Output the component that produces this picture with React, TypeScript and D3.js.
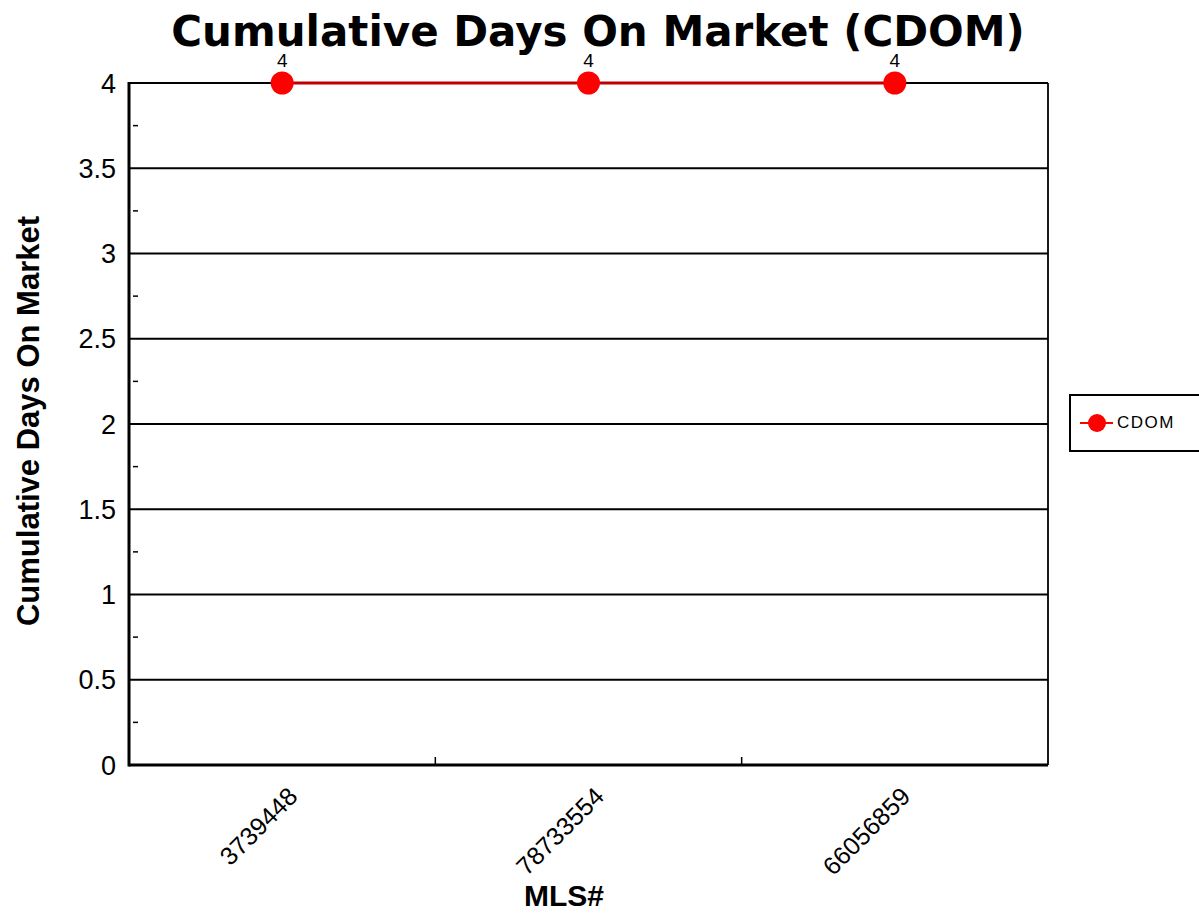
import { useEffect, useRef } from 'react';
import * as d3 from 'd3';

// MLS numbers on the x axis and the CDOM value of each
const mlsNumbers = ['3739448', '78733554', '66056859'];
const cdomValues = [4, 4, 4];
const yTicks = [0, 0.5, 1, 1.5, 2, 2.5, 3, 3.5, 4];
const yMinorTicks = [0.25, 0.75, 1.25, 1.75, 2.25, 2.75, 3.25, 3.75];
const seriesName = 'CDOM';

const App: React.FC = () => {
  const svgRef = useRef<SVGSVGElement | null>(null);

  useEffect(() => {
    if (!svgRef.current) return;
    const svg = d3.select(svgRef.current);
    svg.selectAll('*').remove();

    const width = 1199;
    const height = 913;
    const margin = { top: 83, right: 151, bottom: 148, left: 129 };

    const x = d3.scaleBand<string>()
      .domain(mlsNumbers)
      .range([margin.left, width - margin.right]);

    const y = d3.scaleLinear()
      .domain([0, 4])
      .range([height - margin.bottom, margin.top]);

    const data = mlsNumbers.map((m, i) => ({ mls: m, value: cdomValues[i] }));
    const cx = (d: string) => (x(d) as number) + x.bandwidth() / 2;

    // title
    svg.append('text')
      .attr('x', 598)
      .attr('y', 46)
      .attr('text-anchor', 'middle')
      .attr('font-family', 'DejaVu Sans')
      .attr('font-weight', 'bold')
      .attr('font-size', 42)
      .text('Cumulative Days On Market (CDOM)');

    // grid lines
    svg.append('g')
      .selectAll('line')
      .data(yTicks)
      .join('line')
      .attr('x1', margin.left)
      .attr('x2', width - margin.right)
      .attr('y1', d => y(d))
      .attr('y2', d => y(d))
      .attr('stroke', '#000')
      .attr('stroke-width', 1.8);

    // right border
    svg.append('line')
      .attr('x1', width - margin.right)
      .attr('x2', width - margin.right)
      .attr('y1', y(4))
      .attr('y2', y(0))
      .attr('stroke', '#000')
      .attr('stroke-width', 1.8);

    // minor ticks on y
    svg.append('g')
      .selectAll('line')
      .data(yMinorTicks)
      .join('line')
      .attr('x1', margin.left + 4)
      .attr('x2', margin.left + 9)
      .attr('y1', d => y(d))
      .attr('y2', d => y(d))
      .attr('stroke', '#000')
      .attr('stroke-width', 1.5);

    // y axis
    svg.append('line')
      .attr('x1', margin.left)
      .attr('x2', margin.left)
      .attr('y1', y(4) - 1)
      .attr('y2', y(0) + 1.5)
      .attr('stroke', '#000')
      .attr('stroke-width', 3);

    svg.append('g')
      .selectAll('text')
      .data(yTicks)
      .join('text')
      .attr('x', margin.left - 13)
      .attr('y', d => y(d))
      .attr('dy', '0.36em')
      .attr('text-anchor', 'end')
      .attr('font-family', 'Liberation Sans')
      .attr('font-size', 27)
      .text(d => d3.format('')(d));

    // x axis
    svg.append('line')
      .attr('x1', margin.left)
      .attr('x2', width - margin.right)
      .attr('y1', y(0))
      .attr('y2', y(0))
      .attr('stroke', '#000')
      .attr('stroke-width', 3);

    svg.append('g')
      .selectAll('line')
      .data(mlsNumbers.slice(1))
      .join('line')
      .attr('x1', d => x(d) as number)
      .attr('x2', d => x(d) as number)
      .attr('y1', y(0))
      .attr('y2', y(0) - 8)
      .attr('stroke', '#000')
      .attr('stroke-width', 1.5);

    svg.append('g')
      .selectAll('text')
      .data(mlsNumbers)
      .join('text')
      .attr('transform', d => `translate(${cx(d) + 17},${y(0) + 33}) rotate(-45)`)
      .attr('text-anchor', 'end')
      .attr('font-family', 'Liberation Sans')
      .attr('font-size', 25)
      .text(d => d);

    // axis titles
    svg.append('text')
      .attr('transform', `translate(39,421) rotate(-90)`)
      .attr('text-anchor', 'middle')
      .attr('font-family', 'Liberation Sans')
      .attr('font-weight', 'bold')
      .attr('font-size', 31)
      .text('Cumulative Days On Market');

    svg.append('text')
      .attr('x', 564)
      .attr('y', 906)
      .attr('text-anchor', 'middle')
      .attr('font-family', 'Liberation Sans')
      .attr('font-weight', 'bold')
      .attr('font-size', 30)
      .text('MLS#');

    // series line
    const line = d3.line<{ mls: string; value: number }>()
      .x(d => cx(d.mls))
      .y(d => y(d.value));

    svg.append('path')
      .datum(data)
      .attr('d', line)
      .attr('fill', 'none')
      .attr('stroke', '#c00000')
      .attr('stroke-width', 3);

    svg.append('g')
      .selectAll('circle')
      .data(data)
      .join('circle')
      .attr('cx', d => cx(d.mls))
      .attr('cy', d => y(d.value))
      .attr('r', 11.5)
      .attr('fill', '#ff0000');

    svg.append('g')
      .selectAll('text')
      .data(data)
      .join('text')
      .attr('x', d => cx(d.mls))
      .attr('y', d => y(d.value) - 16)
      .attr('text-anchor', 'middle')
      .attr('font-family', 'Liberation Sans')
      .attr('font-size', 19)
      .text(d => d.value);

    // legend
    const legend = svg.append('g').attr('transform', 'translate(1070,395)');
    legend.append('rect')
      .attr('x', 0)
      .attr('y', 0)
      .attr('width', 150)
      .attr('height', 56)
      .attr('fill', 'none')
      .attr('stroke', '#000')
      .attr('stroke-width', 2);
    legend.append('line')
      .attr('x1', 10)
      .attr('x2', 43)
      .attr('y1', 28)
      .attr('y2', 28)
      .attr('stroke', '#ff0000')
      .attr('stroke-width', 2);
    legend.append('circle')
      .attr('cx', 27)
      .attr('cy', 28)
      .attr('r', 9)
      .attr('fill', '#ff0000');
    legend.append('text')
      .attr('x', 47)
      .attr('y', 27)
      .attr('dy', '0.35em')
      .attr('font-family', 'Liberation Sans')
      .attr('font-size', 17)
      .attr('letter-spacing', 1.5)
      .text(seriesName);
  }, []);

  return (
    <svg
      ref={svgRef}
      width={1199}
      height={913}
      style={{ position: 'absolute', left: 0, top: 0, background: '#fff' }}
    />
  );
};

export default App;
